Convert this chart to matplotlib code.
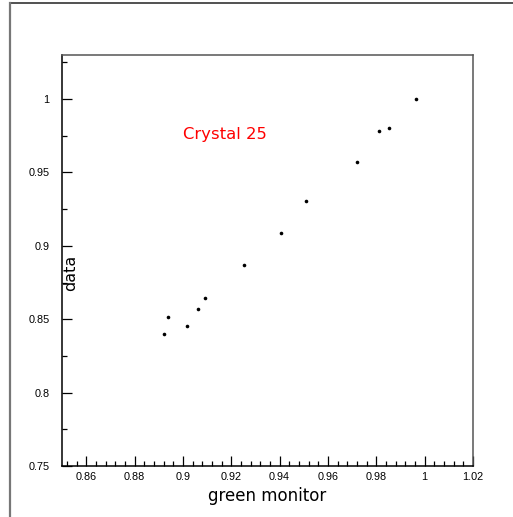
import matplotlib

matplotlib.use("Agg")

import matplotlib.pyplot as plt
from matplotlib.lines import Line2D
from matplotlib.ticker import MultipleLocator, FixedLocator


# values
green_monitor = [0.9963, 0.9811, 0.9852, 0.9721, 0.9509, 0.9407,
                 0.9254, 0.9090, 0.9063, 0.8937, 0.9016, 0.8921]
data_values = [1.0000, 0.9780, 0.9805, 0.9569, 0.9307, 0.9087,
               0.8869, 0.8644, 0.8567, 0.8513, 0.8454, 0.8397]

x_ticks = [0.86, 0.88, 0.90, 0.92, 0.94, 0.96, 0.98, 1.00, 1.02]
x_tick_labels = ["0.86", "0.88", "0.9", "0.92", "0.94", "0.96", "0.98", "1", "1.02"]
y_ticks = [0.75, 0.80, 0.85, 0.90, 0.95, 1.00]
y_tick_labels = ["0.75", "0.8", "0.85", "0.9", "0.95", "1"]

title_text = "Crystal 25"
x_title = "green monitor"
y_title = "data"


def make_plot(output_path="out.png"):
    plt.rcParams["font.family"] = ["Liberation Sans", "DejaVu Sans"]

    fig = plt.figure(figsize=(5.13, 5.17), dpi=100)
    ax = fig.add_axes([62 / 513, 1 - 466 / 517, 411 / 513, 411 / 517])

    # outer canvas frame (top and left edge only)
    fig.add_artist(Line2D([9.5 / 513, 1.0], [1 - 3 / 517, 1 - 3 / 517],
                          transform=fig.transFigure, color="#333333", lw=1.2))
    fig.add_artist(Line2D([9.5 / 513, 9.5 / 513], [0.0, 1 - 3 / 517],
                          transform=fig.transFigure, color="#777777", lw=1.6))

    ax.plot(green_monitor, data_values, "o", color="black",
            markersize=2.6, markeredgewidth=0)

    ax.set_xlim(0.85, 1.02)
    ax.set_ylim(0.75, 1.03)

    ax.xaxis.set_major_locator(FixedLocator(x_ticks))
    ax.set_xticklabels(x_tick_labels)
    ax.xaxis.set_minor_locator(MultipleLocator(0.004))
    ax.yaxis.set_major_locator(FixedLocator(y_ticks))
    ax.set_yticklabels(y_tick_labels)
    ax.yaxis.set_minor_locator(MultipleLocator(0.025))

    ax.tick_params(axis="both", which="both", direction="in",
                   top=False, right=False, labelsize=7.8, width=0.9)
    ax.tick_params(axis="both", which="major", length=7)
    ax.tick_params(axis="both", which="minor", length=3.5)
    ax.tick_params(axis="x", which="major", pad=4)
    ax.tick_params(axis="y", which="major", pad=9)

    for side in ("left", "bottom"):
        ax.spines[side].set_color("black")
        ax.spines[side].set_linewidth(1.1)
    for side in ("top", "right"):
        ax.spines[side].set_color("#555555")
        ax.spines[side].set_linewidth(1.1)

    ax.set_xlabel(x_title, fontsize=12, family=["DejaVu Sans"])
    ax.xaxis.set_label_coords(0.5, -0.05)
    ax.set_ylabel(y_title, fontsize=11.5, family=["DejaVu Sans"])
    ax.yaxis.set_label_coords(0.04, 0.47)

    ax.text(0.9001, 0.9755, title_text, color="red", fontsize=11.8,
            family=["DejaVu Sans"], va="center", ha="left")

    fig.savefig(output_path, dpi=100)
    plt.close(fig)


if __name__ == "__main__":
    make_plot()
